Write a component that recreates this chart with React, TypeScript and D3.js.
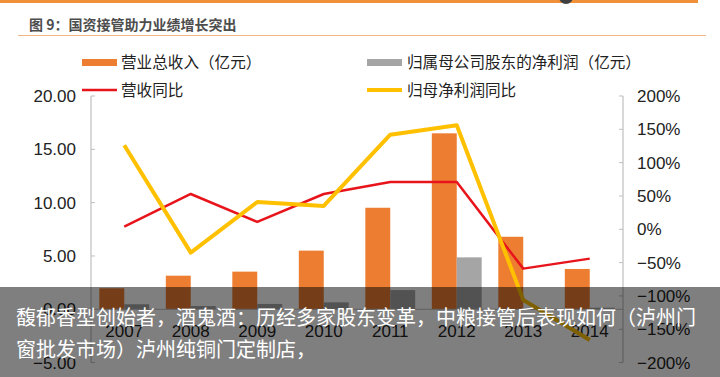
import React from "react";
import * as d3 from "d3";

const years = ["2007", "2008", "2009", "2010", "2011", "2012", "2013", "2014"];
const revenue = [1.97, 3.15, 3.53, 5.5, 9.52, 16.5, 6.8, 3.78];
const netProfit = [0.47, 0.3, 0.5, 0.65, 1.8, 4.87, 0.05, 0.15];
const revenueYoY = [4, 53, 11, 53, 71, 71, -59, -44];
const profitYoY = [126, -35, 41, 35, 142, 156, -106, -166];
const leftTicks = [-5, 0, 5, 10, 15, 20];
const rightTicks = [-200, -150, -100, -50, 0, 50, 100, 150, 200];

const title = "图 9：国资接管助力业绩增长突出";
const legendLabels = ["营业总收入（亿元）", "归属母公司股东的净利润（亿元）", "营收同比", "归母净利润同比"];
const overlayLines = [
  "馥郁香型创始者，酒鬼酒：历经多家股东变革，中粮接管后表现如何（泸州门",
  "窗批发市场）泸州纯铜门定制店，",
];

const W = 720;
const H = 377;
const cOrange = "#ED7D31";
const cGray = "#A5A5A5";
const cRed = "#E8141B";
const cYellow = "#FFC000";
const font = "'Liberation Sans', Arial, sans-serif";
const cjk = "'Noto Sans CJK SC', 'Noto Sans', sans-serif";

const fmtMinus = (s: string) => s.replace("-", "−");

export default function App() {
  const x = d3.scaleBand<string>().domain(years).range([91, 623]).padding(0);
  const yL = d3.scaleLinear().domain([-5, 20]).range([362.6, 96]);
  const yR = d3.scaleLinear().domain([-200, 200]).range([362.6, 96]);
  const step = x.step();
  const bw = step * 0.375;
  const cx = (d: string) => (x(d) as number) + step / 2;

  const line = d3
    .line<number>()
    .x((_, i) => cx(years[i]))
    .y((v) => yR(v));

  return (
    <svg width={W} height={H} style={{ position: "absolute", left: 0, top: 0, background: "#fff" }}>
      <rect x={0} y={0} width={W} height={H} fill="#fff" />
      {/* top decoration */}
      <rect x={0} y={0} width={698} height={3} fill="#F0913A" />
      <circle cx={566} cy={-3} r={7} fill="#3f3f3f" />
      <text x={29} y={30} fontFamily={cjk} fontSize={14} fontWeight="bold" fill="#4d4d4d">
        {title}
      </text>
      <line x1={18} x2={706} y1={35.5} y2={35.5} stroke="#F2B482" strokeWidth={1} />

      {/* legend */}
      <rect x={82} y={59} width={35} height={7} fill={cOrange} />
      <text x={121} y={67.5} fontFamily={cjk} fontSize={15.6} fill="#222">{legendLabels[0]}</text>
      <rect x={367} y={59} width={35} height={7} fill={cGray} />
      <text x={407} y={67.5} fontFamily={cjk} fontSize={15.6} fill="#222">{legendLabels[1]}</text>
      <line x1={82} x2={117} y1={90} y2={90} stroke={cRed} strokeWidth={2.5} />
      <text x={121} y={95.5} fontFamily={cjk} fontSize={15.6} fill="#222">{legendLabels[2]}</text>
      <line x1={367} x2={402} y1={90} y2={90} stroke={cYellow} strokeWidth={4} />
      <text x={407} y={95.5} fontFamily={cjk} fontSize={15.6} fill="#222">{legendLabels[3]}</text>

      {/* axes */}
      <line x1={91} x2={91} y1={yL(20)} y2={yL(-5)} stroke="#BFBFBF" strokeWidth={1.2} />
      <line x1={623} x2={623} y1={yR(200)} y2={yR(-200)} stroke="#BFBFBF" strokeWidth={1.2} />
      {leftTicks.map((t) => (
        <g key={"l" + t}>
          <line x1={91} x2={95} y1={yL(t)} y2={yL(t)} stroke="#BFBFBF" />
          <text x={76} y={yL(t)} dy="0.35em" textAnchor="end" fontFamily={font} fontSize={17} fill="#222">
            {fmtMinus(d3.format(".2f")(t))}
          </text>
        </g>
      ))}
      {rightTicks.map((t) => (
        <g key={"r" + t}>
          <line x1={619} x2={623} y1={yR(t)} y2={yR(t)} stroke="#BFBFBF" />
          <text x={637} y={yR(t)} dy="0.35em" textAnchor="start" fontFamily={font} fontSize={17} fill="#222">
            {fmtMinus(t + "%")}
          </text>
        </g>
      ))}

      {/* bars */}
      {years.map((yr, i) => (
        <g key={yr}>
          <rect
            x={cx(yr) - bw}
            y={yL(Math.max(0, revenue[i]))}
            width={bw}
            height={Math.abs(yL(revenue[i]) - yL(0))}
            fill={cOrange}
          />
          <rect
            x={cx(yr)}
            y={yL(Math.max(0, netProfit[i]))}
            width={bw}
            height={Math.abs(yL(netProfit[i]) - yL(0))}
            fill={cGray}
          />
        </g>
      ))}
      <line x1={91} x2={623} y1={yL(0)} y2={yL(0)} stroke="#BFBFBF" />

      {/* category labels */}
      {years.map((yr) => (
        <text key={"t" + yr} x={cx(yr)} y={337} textAnchor="middle" fontFamily={font} fontSize={17} fill="#222">
          {yr}
        </text>
      ))}

      {/* lines */}
      <path d={line(revenueYoY) || ""} fill="none" stroke={cRed} strokeWidth={2.5} strokeLinejoin="round" />
      <path d={line(profitYoY) || ""} fill="none" stroke={cYellow} strokeWidth={4} strokeLinejoin="round" />

      {/* overlay */}
      <rect x={0} y={287} width={W} height={H - 287} fill="rgba(0,0,0,0.5)" />
      {overlayLines.map((s, i) => (
        <text key={i} x={16} y={325 + i * 32} fontFamily={cjk} fontSize={20} fill="#fff">
          {s}
        </text>
      ))}
    </svg>
  );
}
